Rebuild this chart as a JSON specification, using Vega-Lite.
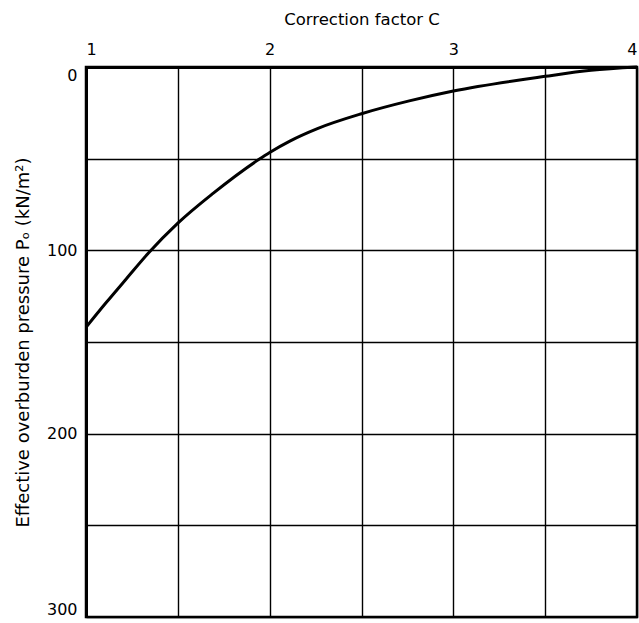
{
  "$schema": "https://vega.github.io/schema/vega-lite/v6.json",
  "width": 551,
  "height": 550,
  "autosize": "none",
  "padding": {"left": 86, "top": 67, "right": 2, "bottom": 6},
  "background": "white",
  "view": {"stroke": "black", "strokeWidth": 2.5},
  "config": {
    "font": "DejaVu Sans",
    "axis": {"gridColor": "black", "gridOpacity": 1, "gridWidth": 1.4, "ticks": false, "labelColor": "black", "titleColor": "black", "labelFont": "DejaVu Sans", "titleFont": "DejaVu Sans", "titleFontWeight": "normal", "domainColor": "black"}
  },
  "data": {
    "values": [
      {"C": 1.0, "P": 142},
      {"C": 1.11, "P": 128.5},
      {"C": 1.22, "P": 115.5},
      {"C": 1.34, "P": 101.5},
      {"C": 1.5, "P": 85.2},
      {"C": 1.69, "P": 69.1},
      {"C": 1.94, "P": 50.5},
      {"C": 2.0, "P": 46.6},
      {"C": 2.11, "P": 40.4},
      {"C": 2.26, "P": 33.6},
      {"C": 2.5, "P": 25.5},
      {"C": 2.76, "P": 18.5},
      {"C": 3.0, "P": 13.1},
      {"C": 3.5, "P": 5.1},
      {"C": 3.75, "P": 1.8},
      {"C": 4.0, "P": 0}
    ]
  },
  "mark": {"type": "line", "color": "black", "strokeWidth": 3, "interpolate": "monotone"},
  "encoding": {
    "x": {
      "field": "C", "type": "quantitative",
      "scale": {"domain": [1, 4], "nice": false, "zero": false},
      "axis": {
        "orient": "top",
        "title": "Correction factor C",
        "titleFontSize": 16.5,
        "titlePadding": 14,
        "values": [1, 1.5, 2, 2.5, 3, 3.5, 4],
        "labelExpr": "datum.value % 1 == 0 ? format(datum.value, 'd') : ''",
        "labelFontSize": 16,
        "labelPadding": 10,
        "labelFlush": true,
        "domainWidth": 3
      }
    },
    "y": {
      "field": "P", "type": "quantitative",
      "scale": {"domain": [0, 300], "reverse": true, "nice": false},
      "axis": {
        "title": "Effective overburden pressure Pₒ (kN/m²)",
        "titleFontSize": 18,
        "titlePadding": 14,
        "values": [0, 50, 100, 150, 200, 250, 300],
        "labelExpr": "datum.value % 100 == 0 ? datum.label : ''",
        "labelFontSize": 16,
        "labelPadding": 9,
        "labelFlush": true,
        "domainWidth": 3
      }
    }
  }
}
